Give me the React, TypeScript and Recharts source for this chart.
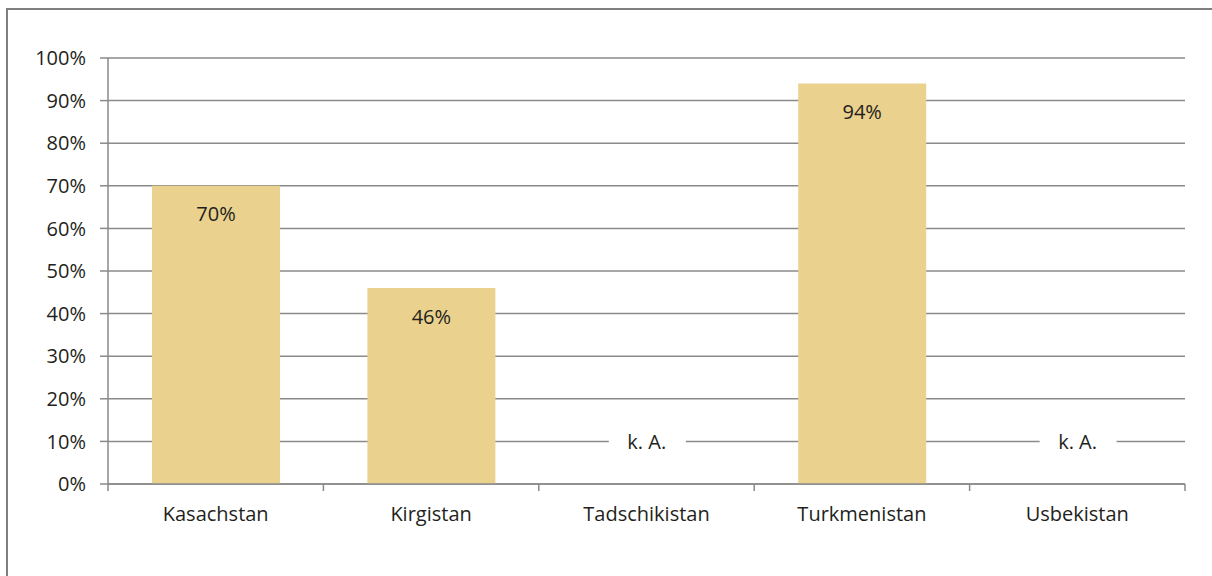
import { ComposedChart, Bar, XAxis, YAxis, CartesianGrid, LabelList } from "recharts";

const countries = ["Kasachstan", "Kirgistan", "Tadschikistan", "Turkmenistan", "Usbekistan"];
const shares = [0.7, 0.46, null, 0.94, null];
const yTicks = [0, 0.1, 0.2, 0.3, 0.4, 0.5, 0.6, 0.7, 0.8, 0.9, 1];
const edgeTicks = [0, 1, 2, 3, 4, 5];

// "keine Angabe" marker sits on the 10% line
const NO_DATA_LEVEL = 0.1;

const data = countries.map((name, i) => ({
  name,
  idx: i + 0.5,
  share: shares[i],
  noData: shares[i] == null ? NO_DATA_LEVEL : null,
}));

const FONT = "'Open Sans', sans-serif";
const FS = 20;
const INK = "#231f20";
const GRID = "#8a8a8a";
const BAR = "#EAD18D";

const pct = (v: number) => `${Math.round(v * 100)}%`;

const ValueLabel = (props: any) => {
  const { x, y, width, value } = props;
  if (value == null) return null;
  return (
    <text
      x={x + width / 2}
      y={y + 28}
      textAnchor="middle"
      dominantBaseline="central"
      fontSize={FS}
      fontFamily={FONT}
      fill={INK}
    >
      {pct(value)}
    </text>
  );
};

const NoDataLabel = (props: any) => {
  const { x, y, width, value } = props;
  if (value == null) return null;
  const cx = x + width / 2;
  return (
    <g>
      <rect x={cx - 38} y={y - 12} width={77} height={24} fill="#fff" />
      <text
        x={cx}
        y={y}
        textAnchor="middle"
        dominantBaseline="central"
        fontSize={FS}
        fontFamily={FONT}
        fill={INK}
      >
        k. A.
      </text>
    </g>
  );
};

export default function App() {
  return (
    <div style={{ position: "absolute", left: 0, top: 0, width: 1212, height: 576, background: "#fff", overflow: "hidden" }}>
      <div
        style={{
          position: "absolute",
          left: 6,
          top: 8,
          width: 1300,
          height: 700,
          borderLeft: "2px solid #7f7f7f",
          borderTop: "2px solid #7f7f7f",
        }}
      />
      <ComposedChart
        width={1212}
        height={576}
        data={data}
        margin={{ top: 58, right: 27, bottom: 32, left: 0 }}
        style={{ position: "absolute", left: 0, top: 0 }}
      >
        <CartesianGrid vertical={false} stroke={GRID} strokeWidth={1.5} />
        <XAxis
          xAxisId="b_names"
          dataKey="name"
          height={59}
          axisLine={false}
          tickLine={false}
          tickSize={0}
          tickMargin={22}
          tick={{ fontSize: FS, fontFamily: FONT, fill: INK }}
          interval={0}
        />
        <XAxis
          xAxisId="a_edges"
          dataKey="idx"
          type="number"
          domain={[0, 5]}
          ticks={edgeTicks}
          interval={0}
          tickFormatter={() => ""}
          tickSize={7}
          tickLine={{ stroke: GRID, strokeWidth: 1.5 }}
          height={1}
          axisLine={{ stroke: GRID, strokeWidth: 1.5 }}
        />
        <YAxis
          domain={[0, 1]}
          ticks={yTicks}
          tickFormatter={pct}
          width={108}
          tickSize={8}
          tickMargin={14}
          stroke={GRID}
          strokeWidth={1.5}
          tick={{ fontSize: FS, fontFamily: FONT, fill: INK }}
        />
        <Bar xAxisId="b_names" dataKey="share" stackId="s" fill={BAR} barSize={128} isAnimationActive={false}>
          <LabelList dataKey="share" content={ValueLabel} />
        </Bar>
        <Bar xAxisId="b_names" dataKey="noData" stackId="s" fill="transparent" barSize={128} isAnimationActive={false}>
          <LabelList dataKey="noData" content={NoDataLabel} />
        </Bar>
      </ComposedChart>
    </div>
  );
}
